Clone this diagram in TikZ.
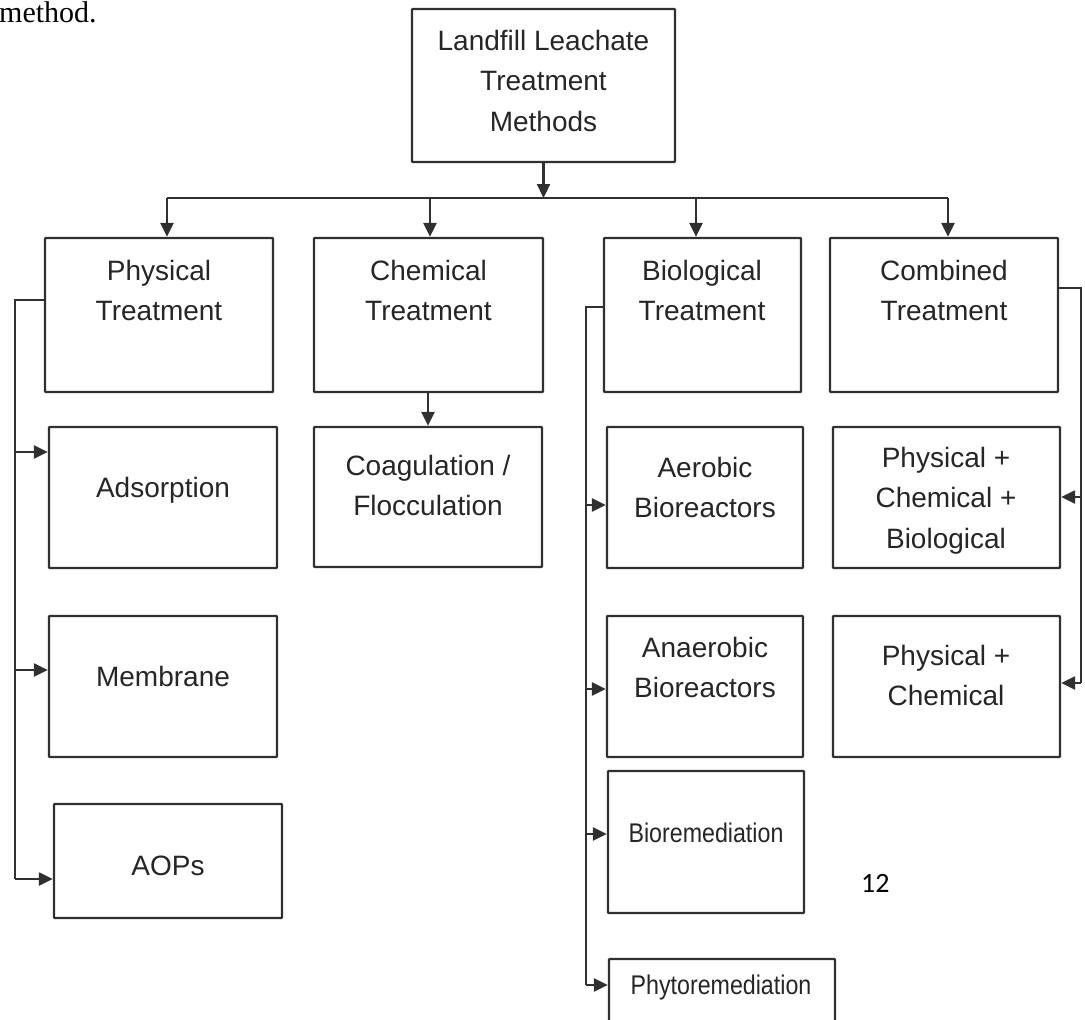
\documentclass[tikz,border=0pt]{standalone}
\usepackage{fontspec}
\setmainfont{Liberation Sans}
\newfontfamily\docserif{Liberation Serif}
\newfontfamily\pagenum{Carlito}
\newfontfamily\condsans[FakeStretch=0.86]{Liberation Sans}
\usetikzlibrary{arrows.meta}
\definecolor{linec}{HTML}{303030}
\definecolor{textc}{HTML}{262626}
\begin{document}
\begin{tikzpicture}[x=1pt,y=-1pt,
  box/.style={draw=linec,line width=2.3pt,inner sep=0pt,rectangle,rounded corners=0.8pt},
  lbl/.style={inner sep=0pt,text=textc,align=center,font=\fontsize{28}{40.5}\selectfont},
  small/.style={inner sep=0pt,text=textc,font=\condsans\fontsize{27}{32}\selectfont},
  wire/.style={draw=linec,line width=2.3pt},
  arr/.style={draw=linec,line width=2.3pt,-{Triangle[length=14pt,width=13pt]}}]
\useasboundingbox[fill=white] (0,0) rectangle (1085,1020);

% page text
\node[anchor=base west,inner sep=0pt,font=\docserif\fontsize{30}{34}\selectfont] (meth) at (-1,22) {method.};
\node[anchor=base west,inner sep=0pt,font=\pagenum\fontsize{28}{32}\selectfont] (pg) at (861,892) {12};

% boxes
\node[box,minimum width=263pt,minimum height=153pt] (top) at (543.5,85.5) {};
\node[box,minimum width=228pt,minimum height=154pt] (phys) at (159,315) {};
\node[box,minimum width=229pt,minimum height=154pt] (chem) at (428.5,315) {};
\node[box,minimum width=197pt,minimum height=154pt] (bio) at (702.5,315) {};
\node[box,minimum width=228pt,minimum height=154pt] (comb) at (944,315) {};
\node[box,minimum width=228pt,minimum height=141pt] (ads) at (163,497.5) {};
\node[box,minimum width=228pt,minimum height=140pt] (coag) at (428,497) {};
\node[box,minimum width=196pt,minimum height=141pt] (aer) at (705,497.5) {};
\node[box,minimum width=227pt,minimum height=141pt] (pcb) at (946.5,497.5) {};
\node[box,minimum width=228pt,minimum height=141pt] (mem) at (163,686.5) {};
\node[box,minimum width=196pt,minimum height=141pt] (ana) at (705,686.5) {};
\node[box,minimum width=227pt,minimum height=141pt] (pc) at (946.5,686.5) {};
\node[box,minimum width=228pt,minimum height=114pt] (aops) at (168,861) {};
\node[box,minimum width=196pt,minimum height=142pt] (biorem) at (706,842) {};
\node[box,minimum width=226pt,minimum height=72pt] (phyto) at (722,995) {};

% texts
\node[lbl,anchor=north] (topT) at (543.5,30) {Landfill Leachate\\Treatment\\Methods};
\node[lbl,anchor=north] (physT) at (159,260) {Physical\\Treatment};
\node[lbl,anchor=north] (chemT) at (428.5,260) {Chemical\\Treatment};
\node[lbl,anchor=north] (bioT) at (702,260) {Biological\\Treatment};
\node[lbl,anchor=north] (combT) at (944,260) {Combined\\Treatment};
\node[lbl,anchor=base] (adsT) at (163,497) {Adsorption};
\node[lbl,anchor=north] (coagT) at (428,455) {Coagulation /\\Flocculation};
\node[lbl,anchor=north] (aerT) at (705,457) {Aerobic\\Bioreactors};
\node[lbl,anchor=north] (pcbT) at (946,447) {Physical +\\Chemical +\\Biological};
\node[lbl,anchor=base] (memT) at (163,686) {Membrane};
\node[lbl,anchor=north] (anaT) at (705,637) {Anaerobic\\Bioreactors};
\node[lbl,anchor=north] (pcT) at (946,645) {Physical +\\Chemical};
\node[lbl,anchor=base] (aopsT) at (168,875) {AOPs};
\node[small,anchor=base] (bioremT) at (706,842) {Bioremediation};
\node[small,anchor=base] (phytoT) at (721,994) {Phytoremediation};

% bus
\coordinate (busL) at (167,198);
\coordinate (busC) at (430,198);
\coordinate (busM) at (543.5,198);
\coordinate (busB) at (696,198);
\coordinate (busR) at (948,198);
\draw[wire] (busL) -- (busR);
\draw[arr] (top.south) -- (busM);
\draw[arr] (busL) -- (busL |- phys.north);
\draw[arr] (busC) -- (busC |- chem.north);
\draw[arr] (busB) -- (busB |- bio.north);
\draw[arr] (busR) -- (busR |- comb.north);

% chemical
\draw[arr] (coag.north |- chem.south) -- (coag.north);

% physical bracket
\coordinate (pTop) at (15,300);
\coordinate (pBot) at (15,879);
\coordinate (p1) at (15,452);
\coordinate (p2) at (15,670);
\draw[wire] (pTop -| phys.west) -- (pTop) -- (pBot);
\draw[arr] (p1) -- (p1 -| ads.west);
\draw[arr] (p2) -- (p2 -| mem.west);
\draw[arr] (pBot) -- (pBot -| aops.west);

% biological bracket
\coordinate (bTop) at (586,307);
\coordinate (bBot) at (586,985);
\coordinate (b1) at (586,505);
\coordinate (b2) at (586,689);
\coordinate (b3) at (586,834);
\draw[wire] (bTop -| bio.west) -- (bTop) -- (bBot);
\draw[arr] (b1) -- (b1 -| aer.west);
\draw[arr] (b2) -- (b2 -| ana.west);
\draw[arr] (b3) -- (b3 -| biorem.west);
\draw[arr] (bBot) -- (bBot -| phyto.west);

% combined bracket
\coordinate (cTop) at (1081,288);
\coordinate (cBot) at (1081,683);
\coordinate (c1) at (1081,497);
\draw[wire] (cTop -| comb.east) -- (cTop) -- (cBot);
\draw[arr] (c1) -- (c1 -| pcb.east);
\draw[arr] (cBot) -- (cBot -| pc.east);
\end{tikzpicture}
\end{document}
